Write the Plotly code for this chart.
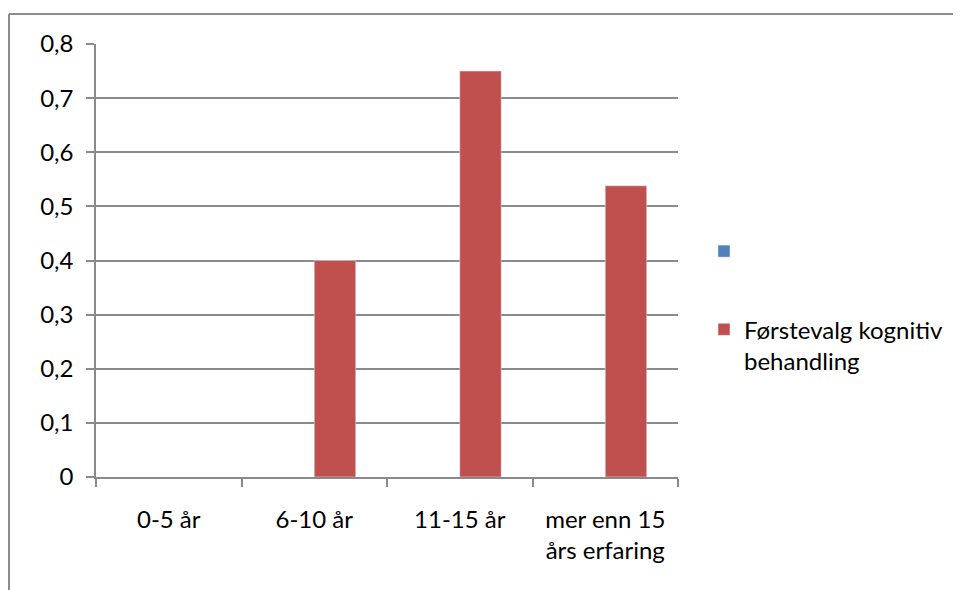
import plotly.graph_objects as go

categories = ["0-5 år", "6-10 år", "11-15 år", "mer enn 15<br>års erfaring"]
series_blank = [None, None, None, None]
series_red = [None, 0.4, 0.75, 0.538]
name_blank = " "
name_red = "Førstevalg kognitiv<br>behandling"
y_ticks = [0, 0.1, 0.2, 0.3, 0.4, 0.5, 0.6, 0.7, 0.8]

# page has an 8px body margin; work in page pixels and convert
OFF = 8
W, H = 961 - OFF, 590 - OFF
L, R, T, B = 96 - OFF, 283, 44 - OFF, 113
pw, ph = W - L - R, H - T - B

def px_x(x):
    return (x - OFF - L) / pw

def px_y(y):
    return (H - B - (y - OFF)) / ph

FONT = "Lato"
GRID = "#8a8a8a"
FS = 24

fig = go.Figure()
fig.add_trace(go.Bar(x=categories, y=series_blank, name=name_blank,
                     marker_color="#4F81BD", legendgroup="a"))
fig.add_trace(go.Bar(x=categories, y=series_red, name=name_red,
                     marker_color="#C0504D", legendgroup="b"))

fig.update_layout(
    width=W, height=H,
    margin=dict(l=L, r=R, t=T, b=B, autoexpand=False),
    paper_bgcolor="white", plot_bgcolor="white",
    separators=", ",
    bargap=0.43, bargroupgap=0,
    font=dict(family=FONT, size=FS, color="#000000"),
    showlegend=True,
    legend=dict(x=px_x(704), y=px_y(229), xanchor="left", yanchor="top",
                tracegroupgap=44, valign="top",
                font=dict(family=FONT, size=FS, color="#000000"),
                bgcolor="rgba(0,0,0,0)"),
    xaxis=dict(showline=True, linecolor=GRID, linewidth=1.5,
               ticks="outside", tickson="boundaries", ticklen=8,
               tickcolor=GRID, tickwidth=1.5, showgrid=False,
               ticklabelstandoff=20, fixedrange=True),
    yaxis=dict(range=[0, 0.8], tickvals=y_ticks, tickformat=".1~f",
               showline=True, linecolor=GRID, linewidth=1.5,
               ticks="outside", ticklen=8, tickcolor=GRID, tickwidth=1.5,
               showgrid=True, gridcolor=GRID, gridwidth=1.5,
               zeroline=False, ticklabelstandoff=8, fixedrange=True),
)

border = dict(color="#8c8c8c", width=2)
fig.add_shape(type="line", xref="paper", yref="paper",
              x0=px_x(9), x1=px_x(961), y0=px_y(14), y1=px_y(14), line=border)
fig.add_shape(type="line", xref="paper", yref="paper",
              x0=px_x(9), x1=px_x(9), y0=px_y(14), y1=px_y(590), line=border)

fig.write_html("out.html")
